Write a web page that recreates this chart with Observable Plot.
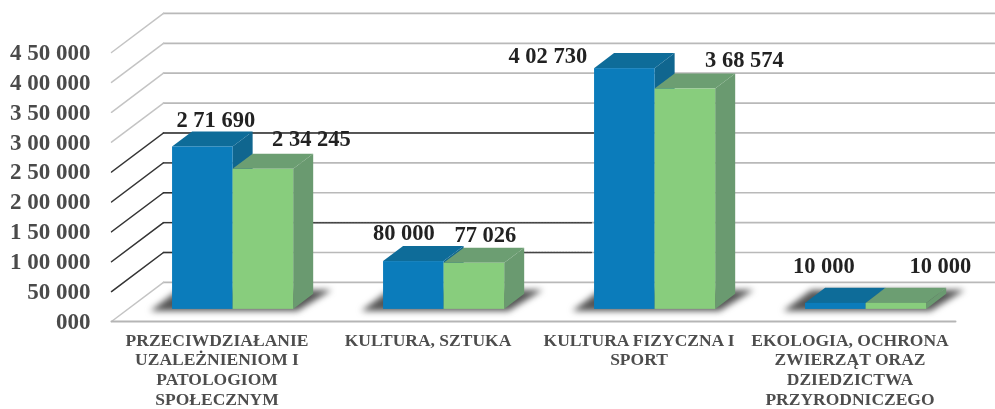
<!DOCTYPE html>
<html><head><meta charset="utf-8">
<script src="https://cdn.jsdelivr.net/npm/d3@7"></script>
<script src="https://cdn.jsdelivr.net/npm/@observablehq/plot@0.6"></script>
<style>
html,body{margin:0;padding:0;background:#fff}
svg{display:block;filter:blur(0.4px)}
</style></head><body><div id="c"></div>
<script>
const categories = ["PRZECIWDZIAŁANIE\nUZALEŻNIENIOM I\nPATOLOGIOM\nSPOŁECZNYM","KULTURA, SZTUKA","KULTURA FIZYCZNA I\nSPORT","EKOLOGIA, OCHRONA\nZWIERZĄT ORAZ\nDZIEDZICTWA\nPRZYRODNICZEGO"];
const blueValues = [271690, 80000, 402730, 10000];
const greenValues = [234245, 77026, 368574, 10000];
const tickValues = [0,50000,100000,150000,200000,250000,300000,350000,400000,450000];
const tickLabels = ["000","50 000","1 00 000","1 50 000","2 00 000","2 50 000","3 00 000","3 50 000","4 00 000","4 50 000"];
const blueLabels = ["2 71 690","80 000","4 02 730","10 000"];
const greenLabels = ["2 34 245","77 026","3 68 574","10 000"];
// label nudges in pixels, relative to the top of each bar
const blueNudge = [[13,-27],[-10,-29],[-77,-13],[-12,-38]];
const greenNudge = [[48,-31],[11,-29],[59,-29],[44,-38]];

// oblique projection: depth 0..1 across the floor
const DX = 0.2464, DY = 65400;
const px = (x,d)=>x+d*DX, pv = (v,d)=>v+d*DY;
const D0 = 0.31, D1 = 0.695;
const serif = "'Liberation Serif','Times New Roman',serif";

const bars = (vals,off,wid)=>vals.map((v,i)=>({i,v,l:i+off,r:i+off+wid}));
const blue = bars(blueValues,0.213,0.287);
const green = bars(greenValues,0.5,0.287);

function faces(rows,front,top,side){
  const sideRows = rows.flatMap(b=>[D0,D1].map(d=>({id:b.i,x:px(b.r,d),y1:pv(0,d),y2:pv(b.v,d)})));
  const topRows = rows.flatMap(b=>[D0,D1].map(d=>({id:b.i,y:pv(b.v,d),x1:px(b.l,d),x2:px(b.r,d)})));
  return [
    Plot.areaY(sideRows,{x:"x",y1:"y1",y2:"y2",z:"id",fill:side}),
    Plot.areaX(topRows,{y:"y",x1:"x1",x2:"x2",z:"id",fill:top}),
    Plot.rect(rows,{x1:b=>px(b.l,D0),x2:b=>px(b.r,D0),y1:()=>pv(0,D0),y2:b=>pv(b.v,D0),fill:front,inset:0})
  ];
}

const shadowRows = categories.flatMap((c,i)=>[
  {id:i,y:pv(0,0.256),x1:px(i+0.123,0.256),x2:px(i+0.82,0.256)},
  {id:i,y:pv(0,0.795),x1:px(i+0.123,0.795),x2:px(i+0.85,0.795)}
]);

const seg = (v,x1,x2)=>[{id:v+"-"+x1,x:x1,y:v},{id:v+"-"+x1,x:x2,y:v}];
const diag = v=>[{id:v,x:0,y:v},{id:v,x:DX,y:pv(v,1)}];
const lightGrid = tickValues.flatMap(v=>seg(pv(v,1),DX,4.3));
const lightDiag = tickValues.flatMap(diag);
const darkDiag = tickValues.filter(v=>v>=50000&&v<=250000).flatMap(diag);
const darkSolid = seg(pv(250000,1),DX,2.285);
const darkStubs = [50000,100000,150000,200000].flatMap(v=>seg(pv(v,1),DX,0.29));
const darkDotted = [...seg(pv(100000,1),0.957,2.275),...seg(pv(50000,1),1.938,2.275)];
const floorFront = seg(0,0,4);

const labelMarks = (rows,labels,nudge)=>rows.map((b,i)=>Plot.text([b],{
  x:r=>px(r.l+0.1435,D0),y:r=>pv(r.v,D0),text:()=>labels[i],dx:nudge[i][0],dy:nudge[i][1],
  fontFamily:serif,fontWeight:"bold",fontSize:22.5,fill:"#222"}));

const chart = Plot.plot({
  width:995,height:409,marginLeft:111,marginRight:40,marginTop:52,marginBottom:88,
  style:{background:"#fff",overflow:"hidden"},
  x:{domain:[0,4]},y:{domain:[0,450000]},
  marks:[
    Plot.axisY({ticks:tickValues,tickFormat:v=>tickLabels[tickValues.indexOf(v)],tickSize:0,tickPadding:21,
      fontFamily:serif,fontWeight:"bold",fontSize:23,color:"#4a4a4a",label:null}),
    Plot.axisX({ticks:[0.5,1.5,2.5,3.5],tickFormat:v=>categories[v-0.5],tickSize:0,tickPadding:10,
      fontFamily:serif,fontWeight:"bold",fontSize:17.5,color:"#4d4d4d",lineHeight:1.13,label:null,textOverflow:null}),
    Plot.line(lightGrid,{x:"x",y:"y",z:"id",stroke:"#b9b9b9",strokeWidth:1.7}),
    Plot.line(lightDiag,{x:"x",y:"y",z:"id",stroke:"#c4c4c4",strokeWidth:1.5}),
    Plot.line(floorFront,{x:"x",y:"y",z:"id",stroke:"#b5b5b5",strokeWidth:2}),
    Plot.line(darkDiag,{x:"x",y:"y",z:"id",stroke:"#333",strokeWidth:1.3}),
    Plot.line(darkStubs,{x:"x",y:"y",z:"id",stroke:"#333",strokeWidth:1.3}),
    Plot.line(darkSolid,{x:"x",y:"y",z:"id",stroke:"#333",strokeWidth:1.6}),
    Plot.line(darkDotted,{x:"x",y:"y",z:"id",stroke:"#444",strokeWidth:1.5,strokeDasharray:"2 1"}),
    Plot.areaX(shadowRows,{y:"y",x1:"x1",x2:"x2",z:"id",fill:"#555",imageFilter:"blur(3px)"}),
    ...faces(blue,"#0b7cbb","#0e6c99","#10668f"),
    ...faces(green,"#88cd7d","#6c9e72","#6a9a70"),
    ...labelMarks(blue,blueLabels,blueNudge),
    ...labelMarks(green,greenLabels,greenNudge)
  ]
});
document.getElementById("c").appendChild(chart);
</script></body></html>
